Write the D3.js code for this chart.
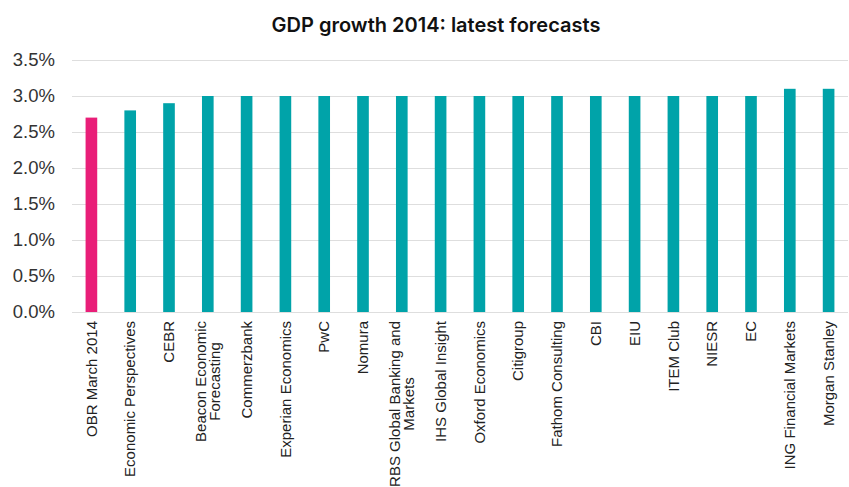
<!DOCTYPE html>
<html>
<head>
<meta charset="utf-8">
<script src="https://cdn.jsdelivr.net/npm/d3@7"></script>
<style>
  body { margin: 0; background: #fff; }
  svg { display: block; }
</style>
</head>
<body>
<svg id="chart" width="849" height="487"></svg>
<script>
// forecasters, in chart order ("|" marks a line break)
var forecasters = [
  "OBR March 2014", "Economic Perspectives", "CEBR", "Beacon Economic|Forecasting",
  "Commerzbank", "Experian Economics", "PwC", "Nomura",
  "RBS Global Banking and|Markets", "IHS Global Insight", "Oxford Economics", "Citigroup",
  "Fathom Consulting", "CBI", "EIU", "ITEM Club", "NIESR", "EC",
  "ING Financial Markets", "Morgan Stanley"
]
var growth = [2.7, 2.8, 2.9, 3.0, 3.0, 3.0, 3.0, 3.0, 3.0, 3.0, 3.0, 3.0, 3.0, 3.0, 3.0, 3.0, 3.0, 3.0, 3.1, 3.1]
var yTicks = [0, 0.5, 1, 1.5, 2, 2.5, 3, 3.5]

var svg = d3.select("#chart")
var plotLeft = 72, plotRight = 848, plotTop = 60, plotBottom = 312

var x = d3.scaleBand().domain(forecasters).range([plotLeft, plotRight]).paddingInner(0.7).paddingOuter(0.35)
var y = d3.scaleLinear().domain([0, 3.5]).range([plotBottom, plotTop])

// title
svg.append("text")
  .attr("x", 436).attr("y", 32)
  .attr("text-anchor", "middle")
  .style("font-family", "Inter, 'Noto Sans', sans-serif")
  .style("font-weight", 600)
  .style("font-size", "20px")
  .attr("fill", "#111")
  .text("GDP growth 2014: latest forecasts")

// gridlines + y labels
var yAxis = svg.append("g")
  .attr("transform", "translate(" + plotLeft + ",0)")
  .call(d3.axisLeft(y).tickValues(yTicks).tickSize(-(plotRight - plotLeft)).tickPadding(17)
    .tickFormat(function(d){ return d.toFixed(1) + "%" }))
yAxis.select(".domain").remove()
yAxis.selectAll(".tick line").attr("stroke", "#dedede").attr("stroke-width", 1)
yAxis.selectAll(".tick text")
  .attr("fill", "#333")
  .style("font-family", "'Liberation Sans', Arial, sans-serif")
  .style("font-size", "18.5px")

// bars
svg.append("g").selectAll("rect")
  .data(forecasters)
  .join("rect")
  .attr("x", function(d){ return x(d) })
  .attr("width", x.bandwidth())
  .attr("y", function(d, i){ return y(growth[i]) })
  .attr("height", function(d, i){ return y(0) - y(growth[i]) })
  .attr("fill", function(d, i){ return i === 0 ? "#e91e78" : "#00a3a9" })

// x labels, rotated
var labels = svg.append("g").selectAll("g")
  .data(forecasters)
  .join("g")
  .attr("transform", function(d){ return "translate(" + (x(d) + x.bandwidth() / 2) + "," + 321 + ") rotate(-90)" })

labels.each(function(d) {
  var g = d3.select(this)
  var lines = d.split("|")
  var lh = 14.5
  var texts = lines.map(function(line, k) {
    return g.append("text")
      .attr("y", (k - (lines.length - 1) / 2) * lh)
      .attr("dy", "0.35em")
      .attr("fill", "#222")
      .style("font-family", "'Liberation Sans', Arial, sans-serif")
      .style("font-size", "15px")
      .text(line)
  })
  var maxW = d3.max(texts, function(t){ return t.node().getComputedTextLength() })
  texts.forEach(function(t) {
    t.attr("text-anchor", "middle").attr("x", -maxW / 2)
  })
})
</script>
</body>
</html>
